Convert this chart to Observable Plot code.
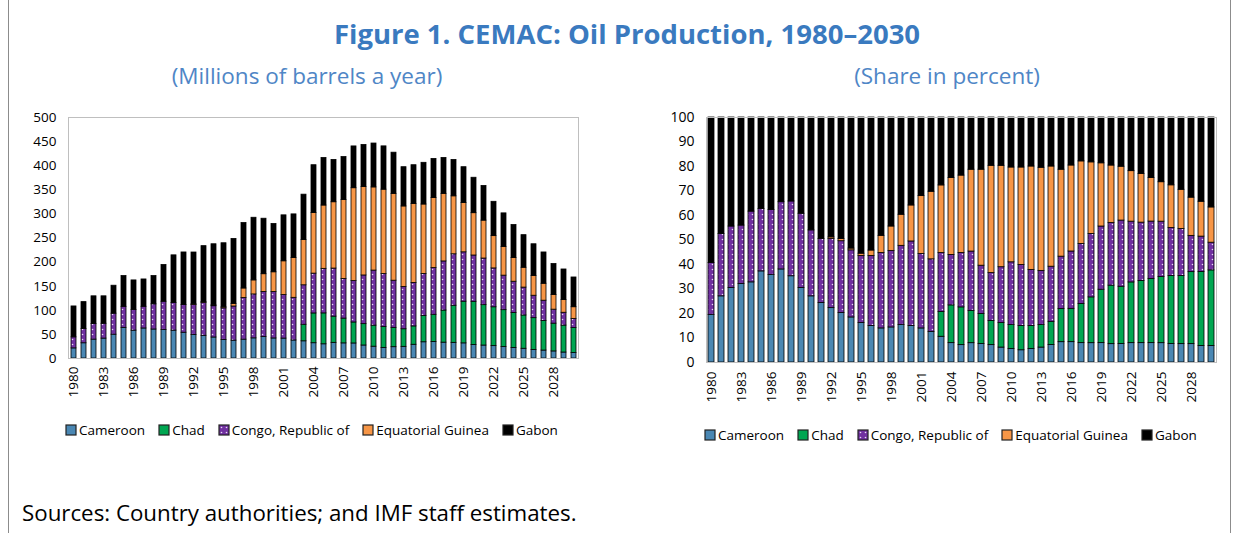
<!DOCTYPE html>
<html><head><meta charset="utf-8">
<script src="https://cdn.jsdelivr.net/npm/d3@7"></script>
<script src="https://cdn.jsdelivr.net/npm/@observablehq/plot@0.6"></script>
<style>
body{margin:0;background:#fff;}
#wrap{position:relative;width:1238px;height:533px;overflow:hidden;font-family:"Open Sans",sans-serif;background:#fff;}
#border{position:absolute;left:8px;top:-3px;width:1223px;height:600px;border:1px solid #8c8c8c;box-sizing:border-box;}
#title{position:absolute;left:8px;width:1238px;top:15px;text-align:center;font-weight:700;font-size:27.5px;color:#3a7abf;white-space:nowrap;}
.sub{position:absolute;top:60px;width:500px;font-size:22.5px;color:#4f86c6;text-align:center;white-space:nowrap;}
.chart{position:absolute;top:107px;}
.leg{position:absolute;}
#source{position:absolute;left:22px;top:497px;font-size:22.3px;color:#000;white-space:nowrap;}
.leg .lg-swatch{margin-right:14px !important;}
.leg .lg-swatch > svg{margin-right:3px !important;}
.leg .lg-swatch > svg rect{stroke:#222;stroke-width:1.2px;}
</style></head>
<body>
<svg width="0" height="0" style="position:absolute"><defs>
<pattern id="congoDots" patternUnits="userSpaceOnUse" width="5" height="5"><rect width="5" height="5" fill="#7030a0"/><circle cx="2.5" cy="2.5" r="0.8" fill="#e8dcf4"/></pattern>
</defs></svg>
<div id="wrap">
<div id="border"></div>
<div id="title">Figure 1. CEMAC: Oil Production, 1980–2030</div>
<div class="sub" style="left:57px">(Millions of barrels a year)</div>
<div class="sub" style="left:697px">(Share in percent)</div>
<div class="chart" id="c1" style="left:0px"></div>
<div class="chart" id="c2" style="left:620px"></div>
<div class="leg" id="l1" style="left:66px;top:413px"></div>
<div class="leg" id="l2" style="left:705px;top:418px"></div>
<div id="source">Sources: Country authorities; and IMF staff estimates.</div>
</div>
<script>
const years = [1980,1981,1982,1983,1984,1985,1986,1987,1988,1989,1990,1991,1992,1993,1994,1995,1996,1997,1998,1999,2000,2001,2002,2003,2004,2005,2006,2007,2008,2009,2010,2011,2012,2013,2014,2015,2016,2017,2018,2019,2020,2021,2022,2023,2024,2025,2026,2027,2028,2029,2030];
const countries = ["Cameroon","Chad","Congo, Republic of","Equatorial Guinea","Gabon"];
const colors = ["#4a87b3","#00a651","url(#congoDots)","#f79646","#000000"];

const cameroon = [21.0,31.6,39.2,41.3,49.4,63.6,57.8,62.3,60.2,59.0,
  57.8,53.5,48.8,47.1,43.6,38.5,37.0,39.1,41.8,44.4,
  41.6,41.3,37.4,35.7,31.7,29.5,32.5,31.4,31.2,27.0,
  24.5,22.0,23.5,24.2,28.5,33.7,34.4,32.9,32.5,31.4,
  28.1,26.9,25.7,23.8,21.9,20.2,17.8,16.5,14.7,12.4,
  11.3];
const chad = [0,0,0,0,0,0,0,0,0,0,
  0,0,0,0,0,0,0,0,0,0,
  0,0,0,34.3,61.8,64.1,54.4,51.4,43.6,44.3,
  43.7,43.6,40.1,36.5,38.1,54.8,56.3,66.6,77.0,86.5,
  89.6,83.8,80.6,76.5,72.6,69.1,65.9,61.2,57.6,55.9,
  51.9];
const congo = [22.9,29.8,32.4,30.8,43.6,43.6,43.1,45.0,52.2,58.8,
  57.6,57.4,62.0,68.3,64.9,65.5,70.9,86.5,91.1,93.7,
  96.3,90.3,88.5,81.9,82.6,92.4,99.7,82.3,85.8,101.0,
  114.2,109.6,97.8,87.7,90.2,86.9,96.9,101.9,106.7,102.4,
  96.0,96.7,80.6,71.6,64.8,57.8,46.5,42.2,29.0,26.6,
  19.0];
const eqGuinea = [0,0,0,0,0,0,0,0,0,0,
  0,0,1.5,2.1,1.7,2.2,5.5,19.7,29.2,36.8,
  41.0,70.1,82.5,93.8,125.9,131.4,137.6,163.8,192.7,183.4,
  172.6,175.1,180.2,167.1,164.0,144.1,145.3,140.2,120.3,102.4,
  87.8,78.7,67.0,59.7,49.2,41.2,41.2,35.2,30.6,26.3,
  24.2];
const gabon = [64.1,55.6,57.4,56.9,58.0,63.8,61.1,56.7,58.6,76.2,
  98.6,109.1,107.6,115.6,126.8,132.9,134.7,135.7,129.9,115.1,
  100.2,95.3,90.6,94.2,99.0,98.6,87.8,89.0,86.7,87.3,
  91.0,89.8,85.4,81.4,80.2,86.5,81.1,74.5,75.4,74.2,
  73.5,71.9,71.2,69.5,68.4,67.6,65.6,64.9,64.1,63.5,
  61.7];
const xTickYears = [1980,1983,1986,1989,1992,1995,1998,2001,2004,2007,2010,2013,2016,2019,2022,2025,2028];
const yTicksLeft = [0,50,100,150,200,250,300,350,400,450,500];
const yTicksRight = [0,10,20,30,40,50,60,70,80,90,100];

const series = [cameroon, chad, congo, eqGuinea, gabon];
const rows = [];
years.forEach((y, i) => countries.forEach((c, j) => rows.push({year: y, country: c, value: series[j][i]})));

const font = {fontFamily: "'Open Sans', sans-serif", fontSize: "13.5px", color: "#000", background: "transparent", overflow: "visible"};

const left = Plot.plot({
  width: 590, height: 301, marginLeft: 68, marginRight: 12, marginTop: 10, marginBottom: 50,
  style: font,
  x: {type: "band", domain: years, paddingInner: 0.5, paddingOuter: 0.25, label: null},
  y: {domain: [0, 500], label: null},
  color: {domain: countries, range: colors},
  marks: [
    Plot.barY(rows, {x: "year", y: "value", fill: "country", order: countries, filter: d => d.value > 0, stroke: "#000", strokeWidth: 0.8}),
    Plot.frame({stroke: "#bfbfbf"}),
    Plot.axisY({ticks: yTicksLeft, tickSize: 0, tickPadding: 12, label: null}),
    Plot.axisX({ticks: xTickYears, tickFormat: d => String(d), tickRotate: -90, tickSize: 0, tickPadding: 8, label: null})
  ]
});
document.getElementById("c1").appendChild(left);

const right = Plot.plot({
  width: 608, height: 305, marginLeft: 86, marginRight: 12, marginTop: 10, marginBottom: 50,
  style: font,
  x: {type: "band", domain: years, paddingInner: 0.45, paddingOuter: 0.225, label: null},
  y: {domain: [0, 1], label: null},
  color: {domain: countries, range: colors},
  marks: [
    Plot.barY(rows, {x: "year", y: "value", fill: "country", order: countries, offset: "normalize", filter: d => d.value > 0, stroke: "#000", strokeWidth: 0.8}),
    Plot.frame({stroke: "#bfbfbf"}),
    Plot.axisY({ticks: yTicksRight.map(d => d / 100), tickFormat: d => String(Math.round(d * 100)), tickSize: 0, tickPadding: 12, label: null, fontSize: 14}),
    Plot.axisX({ticks: xTickYears, tickFormat: d => String(d), tickRotate: -90, tickSize: 0, tickPadding: 9, label: null})
  ]
});
document.getElementById("c2").appendChild(right);

function makeLegend() {
  return Plot.legend({
    color: {type: "ordinal", domain: countries, range: colors},
    swatchSize: 10, className: "lg",
    style: {fontFamily: "'Open Sans', sans-serif", fontSize: "13.5px", color: "#000"}
  });
}
document.getElementById("l1").appendChild(makeLegend());
document.getElementById("l2").appendChild(makeLegend());
</script>
</body></html>
